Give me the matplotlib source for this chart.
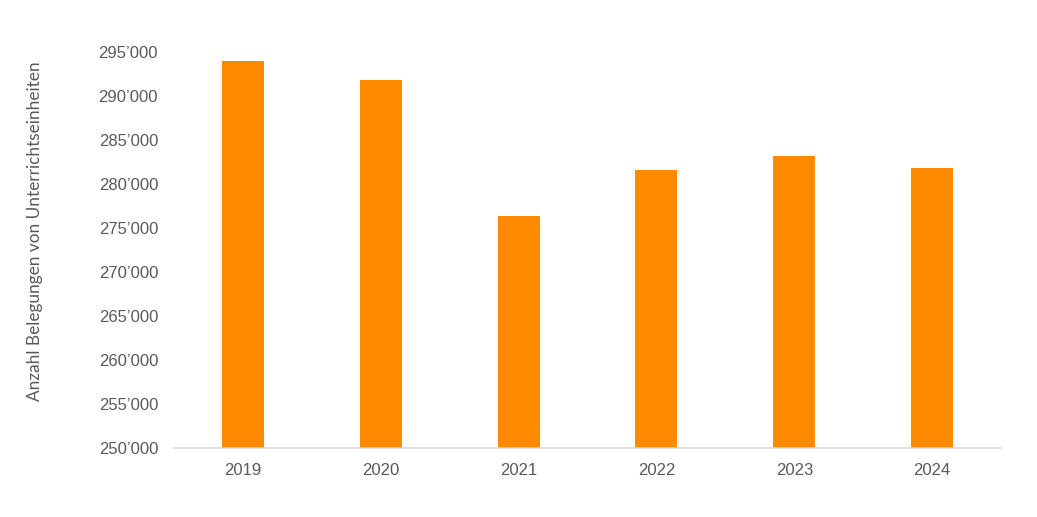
import numpy as np
import matplotlib.pyplot as plt
from matplotlib.ticker import FuncFormatter

# Data
years = ['2019', '2020', '2021', '2022', '2023', '2024']
belegungen = [293940, 291850, 276400, 281560, 283150, 281780]

bar_color = '#FF8A00'
text_color = '#595959'

fig = plt.figure(figsize=(10.37, 5.17), dpi=100)
ax = fig.add_axes([0.1678, 0.1335, 0.7975, 0.7659])

x = np.arange(len(years))
ax.bar(x, belegungen, width=0.305, color=bar_color, zorder=2)

ax.set_xlim(-0.5, len(years) - 0.5)
ax.set_ylim(250000, 295000)
ax.set_yticks(np.arange(250000, 295001, 5000))
ax.yaxis.set_major_formatter(FuncFormatter(lambda v, p: f"{int(v):,}".replace(",", "\u2019")))
ax.set_xticks(x)
ax.set_xticklabels(years)

for s in ['top', 'right', 'left']:
    ax.spines[s].set_visible(False)
ax.spines['bottom'].set_color('#D9D9D9')
ax.spines['bottom'].set_linewidth(1.2)

ax.tick_params(axis='both', length=0, labelsize=12, colors=text_color,
               labelfontfamily='Liberation Sans')
ax.tick_params(axis='y', pad=11.5)
ax.tick_params(axis='x', pad=11)

ax.set_ylabel('Anzahl Belegungen von Unterrichtseinheiten', fontsize=12.4,
              color=text_color, family='Lato')
ax.yaxis.set_label_coords(-0.159, 0.548)

fig.savefig('out.png', dpi=100)
